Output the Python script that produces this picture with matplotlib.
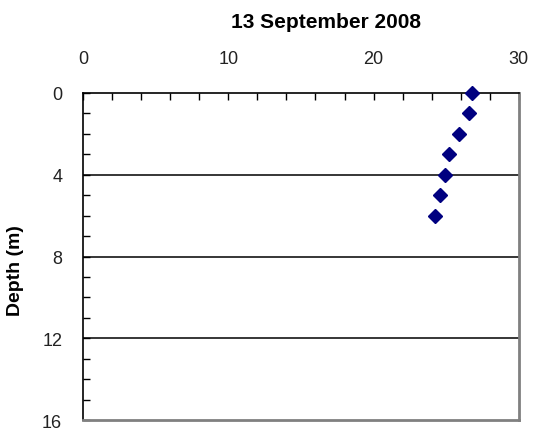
import matplotlib.pyplot as plt
from matplotlib.ticker import MultipleLocator

plt.rcParams['font.family'] = ['Liberation Sans', 'DejaVu Sans']

# temperature (deg C) at each depth (m)
depth = [0, 1, 2, 3, 4, 5, 6]
temperature = [26.8, 26.6, 25.85, 25.2, 24.9, 24.6, 24.2]

fig = plt.figure(figsize=(5.36, 4.35), dpi=100)
ax = fig.add_axes([0.155, 0.032, 0.813, 0.752])

ax.set_xlim(0, 30)
ax.set_ylim(16, 0)

for y in [4, 8, 12]:
    ax.axhline(y, color='black', lw=1.1, zorder=1)

ax.plot(temperature, depth, 'D', color='#000080', ms=7, clip_on=False, zorder=3)

ax.xaxis.set_ticks_position('top')
ax.xaxis.set_label_position('top')
ax.set_xticks([0, 10, 20, 30])
ax.xaxis.set_minor_locator(MultipleLocator(2))
ax.set_yticks([0, 4, 8, 12, 16])
ax.yaxis.set_minor_locator(MultipleLocator(1))
ax.tick_params(which='both', direction='in', length=5, width=1, color='black',
               labelsize=13, labelcolor='#222222', pad=15)
ax.tick_params(axis='x', pad=19)

for s in ['top', 'left']:
    ax.spines[s].set_color('black')
    ax.spines[s].set_linewidth(1.2)
for s in ['right', 'bottom']:
    ax.spines[s].set_color('#808080')
    ax.spines[s].set_linewidth(2)

ax.set_ylabel('Depth (m)', fontsize=14, fontweight='bold')
ax.yaxis.set_label_coords(-0.135, 0.46)
fig.text(0.608, 0.936, '13 September 2008', ha='center', va='baseline',
         fontsize=15, fontweight='bold')

fig.savefig('out.png', dpi=100)
